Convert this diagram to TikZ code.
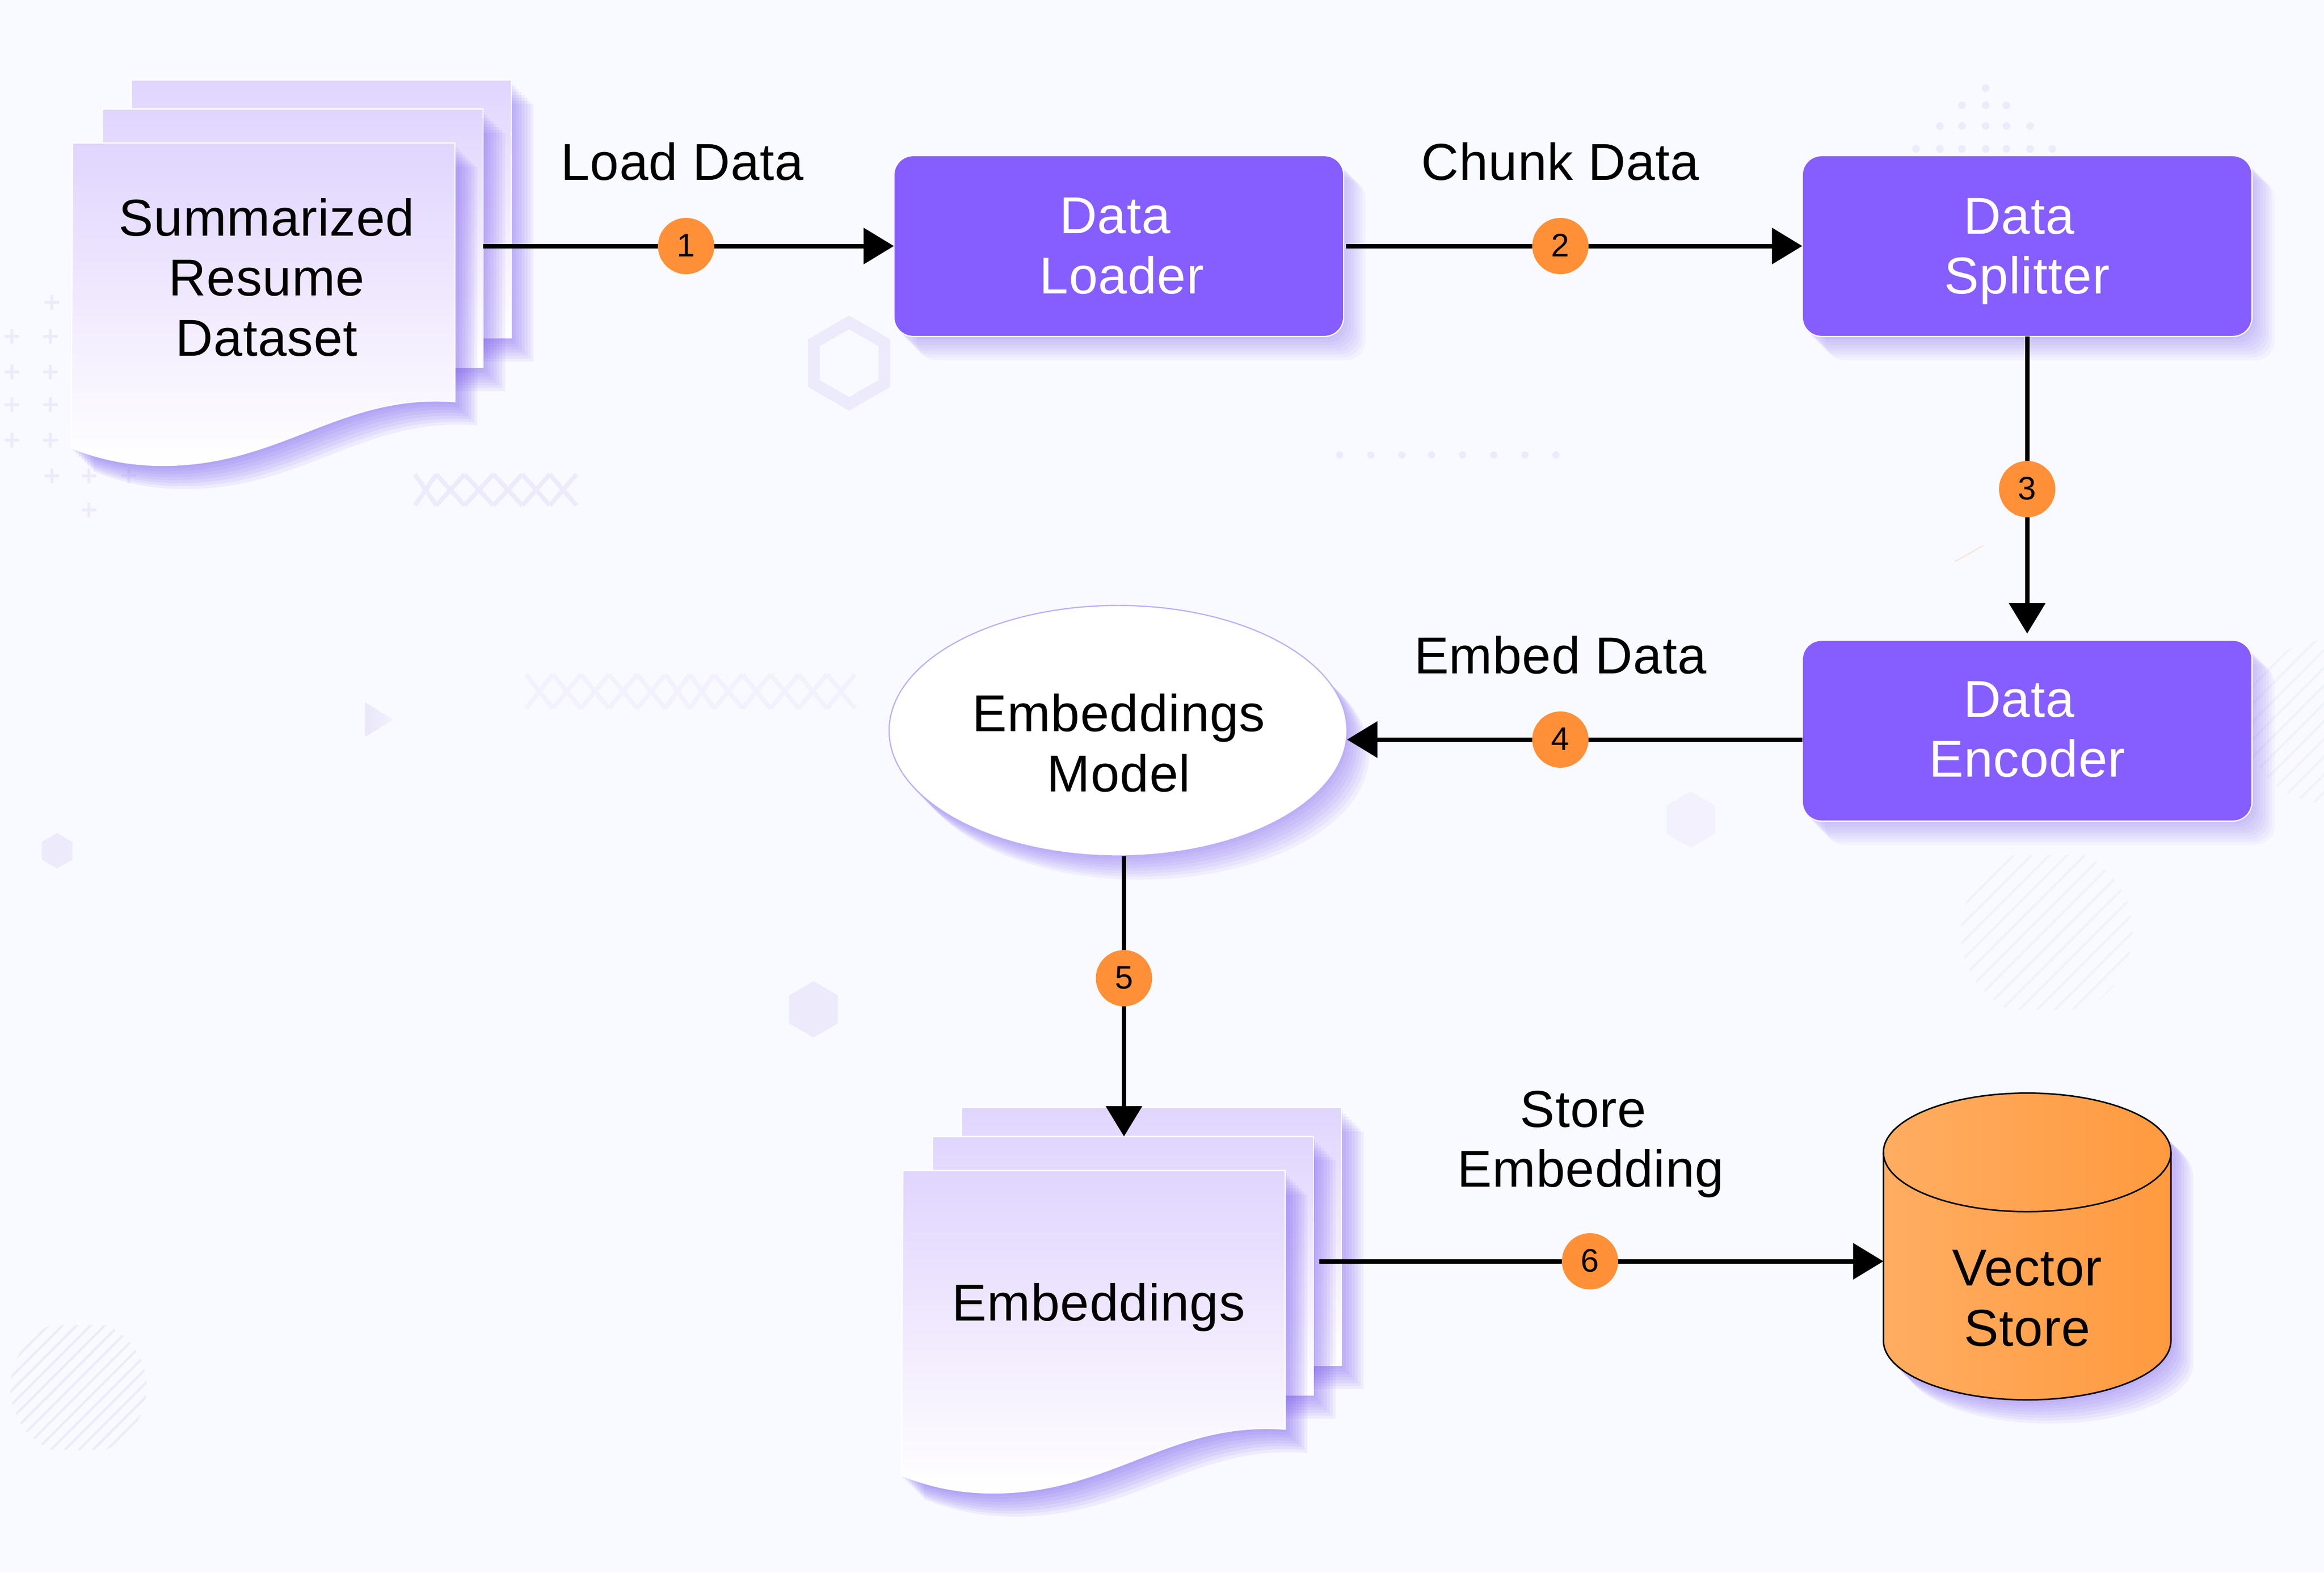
\documentclass[tikz,border=0pt]{standalone}
\usepackage{fontspec}
\setmainfont{Liberation Sans}[LetterSpace=1]
\usetikzlibrary{positioning,shapes.geometric,arrows.meta}
\definecolor{pagebg}{HTML}{F9FAFF}
\definecolor{boxviolet}{HTML}{865DFF}
\definecolor{sheettop}{HTML}{E0D5FE}
\definecolor{sheetmid}{HTML}{F1EAFE}
\definecolor{shadeviolet}{HTML}{7B5CF0}
\definecolor{badgeorange}{HTML}{FF9038}
\definecolor{storeleft}{HTML}{FFAD62}
\definecolor{storeright}{HTML}{FF9A3F}
\definecolor{decoA}{HTML}{EDEBFB}
\definecolor{decoB}{HTML}{F2F1FD}
\newcommand{\txtsize}{\fontsize{35}{40.5}\selectfont}
\tikzset{
  boxnode/.style={rectangle,rounded corners=13pt,fill=boxviolet,draw=white,line width=0.8pt,text=white,align=center,inner sep=0pt,outer sep=0pt,minimum width=303.5pt,minimum height=122pt,font=\txtsize},
  sheet/.style={rectangle,top color=sheettop,bottom color=white,middle color=sheetmid,draw=white,line width=0.8pt,inner sep=0pt,outer sep=0pt},
  txt/.style={align=center,inner sep=0pt,outer sep=0pt,font=\txtsize},
  badge/.style={circle,fill=badgeorange,minimum size=38pt,inner sep=0pt,outer sep=0pt,text height=14pt,text depth=0pt,font=\fontsize{22}{24}\selectfont},
  conn/.style={line width=3pt,-{Triangle[length=20.5pt,width=24pt]}},
  plainconn/.style={line width=3pt},
  plusmark/.style={decoA,line width=2pt},
  hatch/.style={line width=1.6pt},
}
% soft shadow to the lower right: #1 opacity of a layer, #2 the path
\newcommand{\softshadow}[2]{\foreach \w in {15,13,...,1} {\fill[shadeviolet,opacity=#1,shift={(\w,\w+1)}] #2;}}
\newcommand{\wavepath}{(49,96.5) -- (307,96.5) -- (307,271) .. controls (230,265) and (190,314) .. (110,314) .. controls (85,314) and (65,309) .. (48,302) -- cycle}
% three sheets, #1 and #2 shift, #3 start of the names
\newcommand{\docstack}[3]{%
\begin{scope}[shift={(#1,#2)}]
\softshadow{.08}{(88.5,54) rectangle (345,228)}
\node[sheet,minimum width=256.5pt,minimum height=174pt] (#3back) at (216.75,141) {};
\softshadow{.08}{(69,73.5) rectangle (326,248)}
\node[sheet,minimum width=257pt,minimum height=174.5pt] (#3mid) at (197.5,160.75) {};
\softshadow{.09}{\wavepath}
\shade[top color=sheettop,bottom color=white,middle color=sheetmid,draw=white,line width=0.8pt] \wavepath;
\end{scope}}
\newcommand{\hexa}[4]{\fill[#1] (#2,#3) +(90:#4pt) \foreach \a in {150,210,270,330,30} {-- +(\a:#4pt)} -- cycle;}
\begin{document}
\begin{tikzpicture}[x=1pt,y=-1pt]
\useasboundingbox (0,0) rectangle (1568.33,1061);
\fill[pagebg] (0,0) rectangle (1568.33,1061);
%faint things behind the diagram
\foreach \x/\y in {35/204,8/227,34/227,8/251,34/251,8/273,34/273,8/297,34/297,35/321,60/321,87/321,60/344} \draw[plusmark] (\x-5,\y) -- (\x+5,\y) (\x,\y-5) -- (\x,\y+5);
\foreach \p/\q in {280/294.5,294.5/313.5,313.5/333,333/352.5,352.5/371,371/389} \draw[decoA,line width=3pt] (\p,320) -- (\q,341) (\p,341) -- (\q,320);
\foreach \p/\q in {355/373,373/392,392/411,411/430,430/449,449/465.5,465.5/482,482/501,501/520,520/539,539/558,558/577} \draw[decoB,line width=3pt] (\p,455) -- (\q,478) (\p,478) -- (\q,455);
\draw[decoA,line width=8pt] (573,245) +(90:27.5pt) \foreach \a in {150,210,270,330,30} {-- +(\a:27.5pt)} -- cycle;
\hexa{decoA}{38.5}{574}{12}
\hexa{decoA}{549}{681}{19}
\hexa{decoB}{1141}{553}{19}
\shade[left color=decoA!130!pagebg,right color=decoB] (246.5,474) -- (265.5,485.5) -- (246.5,497) -- cycle;
\foreach \x/\y in {1340/59.5,1324/71,1340/71,1354/71,1309/85,1324/85,1340/85,1354/85,1370/85,1293/100.5,1309/100.5,1324/100.5,1340/100.5,1354/100.5,1370/100.5,1385/100.5} \fill[decoA] (\x,\y) circle (2.6pt);
\foreach \x in {904,925,946,966,987,1008,1029,1050} \fill[decoA] (\x,307) circle (2.5pt);
\draw[orange!15!pagebg,line width=1pt] (1319,379) -- (1338.5,368);
\begin{scope}
\clip (7,894) rectangle (99,978);
\clip (53,936) circle (46pt);
\foreach \d in {-100,-90.5,...,110} \draw[decoA,hatch] (53+\d-60,996) -- (53+\d+60,876);
\end{scope}
\begin{scope}
\clip (1323,577) rectangle (1439,681);
\clip (1381,629) circle (58pt);
\foreach \d in {-110,-98,...,110} \draw[decoB,hatch] (1381+\d-60,689) -- (1381+\d+60,569);
\end{scope}
\begin{scope}
\clip (1570,487) circle (55pt);
\foreach \d in {-110,-98,...,110} \draw[decoB,hatch] (1570+\d-60,547) -- (1570+\d+60,427);
\end{scope}
%sheets
\docstack{0}{0}{ds}
\docstack{560.3}{693.3}{emb}
\node[txt] (dataset) at (180,187) {Summarized\\Resume\\Dataset};
\node[txt] (embsheet) at (741.5,882) {Embeddings};
%boxes
\softshadow{.05}{[rounded corners=13pt] (603.5,105) rectangle (906.5,227)}
\node[boxnode] (dloader) at (755,166) {Data\hspace*{5pt}\\\hspace*{4pt}Loader};
\softshadow{.05}{[rounded corners=13pt] (1216.5,105) rectangle (1520,227)}
\node[boxnode] (dsplitter) at (1368,166) {Data\hspace*{11pt}\\\raisebox{0pt}[\height][0pt]{Splitter}};
\softshadow{.05}{[rounded corners=13pt] (1216.5,432) rectangle (1520,554)}
\node[boxnode] (dencoder) at (1368,493) {Data\hspace*{11pt}\\Encoder\raisebox{0pt}[0pt][2pt]{}};
%model
\softshadow{.07}{(754.5,493) ellipse [x radius=154.5pt,y radius=84.5pt]}
\node[ellipse,draw=shadeviolet!50!white,fill=white,line width=0.8pt,inner sep=0pt,outer sep=0pt,minimum width=309pt,minimum height=169pt] (embmodel) at (754.5,493) {};
\node[txt] (embmodeltext) at (755,501.3) {Embeddings\\Model};
%store
\softshadow{.07}{(1271,777.5) -- (1271,904.5) arc[start angle=180,end angle=360,x radius=97pt,y radius=40pt] -- (1465,777.5) arc[start angle=0,end angle=180,x radius=97pt,y radius=40pt] -- cycle}
\shade[left color=storeleft,right color=storeright,draw=black,line width=1pt] (1271,777.5) -- (1271,904.5) arc[start angle=180,end angle=360,x radius=97pt,y radius=40pt] -- (1465,777.5) arc[start angle=0,end angle=180,x radius=97pt,y radius=40pt] -- cycle;
\draw[black,line width=1pt] (1271,777.5) arc[start angle=180,end angle=360,x radius=97pt,y radius=40pt];
\node[txt,minimum width=194pt] (vstore) at (1368,876) {Vector\\Store};
%labels
\node[txt] (loadlabel) at (460.5,109) {Load Data};
\node[txt] (chunklabel) at (1053,109) {Chunk Data};
\node[txt] (embedlabel) at (1053,442) {Embed Data};
\node[txt] (storelabel) at (1073.5,772) {Store\hspace*{10pt}\\Embedding};
%steps
\node[badge] (stepone) at (463,166) {1};
\node[badge] (steptwo) at (1053,166) {2};
\node[badge] (stepthree) at (1368,330) {3};
\node[badge] (stepfour) at (1053,499) {4};
\node[badge] (stepfive) at (758.5,660) {5};
\node[badge] (stepsix) at (1073,851) {6};
%connectors
\draw[plainconn] (dsmid.east |- stepone) -- (stepone);
\draw[conn] (stepone) -- (dloader);
\draw[plainconn,shorten <=1.5pt] (dloader) -- (steptwo);
\draw[conn] (steptwo) -- (dsplitter);
\draw[plainconn] (dsplitter) -- (stepthree);
\draw[conn,shorten >=4.5pt] (stepthree) -- (dencoder);
\draw[plainconn] (dencoder.west |- stepfour) -- (stepfour);
\draw[conn] (stepfour) -- (embmodel.east |- stepfour);
\draw[plainconn] (embmodel.south -| stepfive) -- (stepfive);
\draw[conn] (stepfive) -- (embmid.north -| stepfive);
\draw[plainconn,shorten <=4pt] (embmid.east |- stepsix) -- (stepsix);
\draw[conn] (stepsix) -- (vstore.west |- stepsix);
\end{tikzpicture}
\end{document}
